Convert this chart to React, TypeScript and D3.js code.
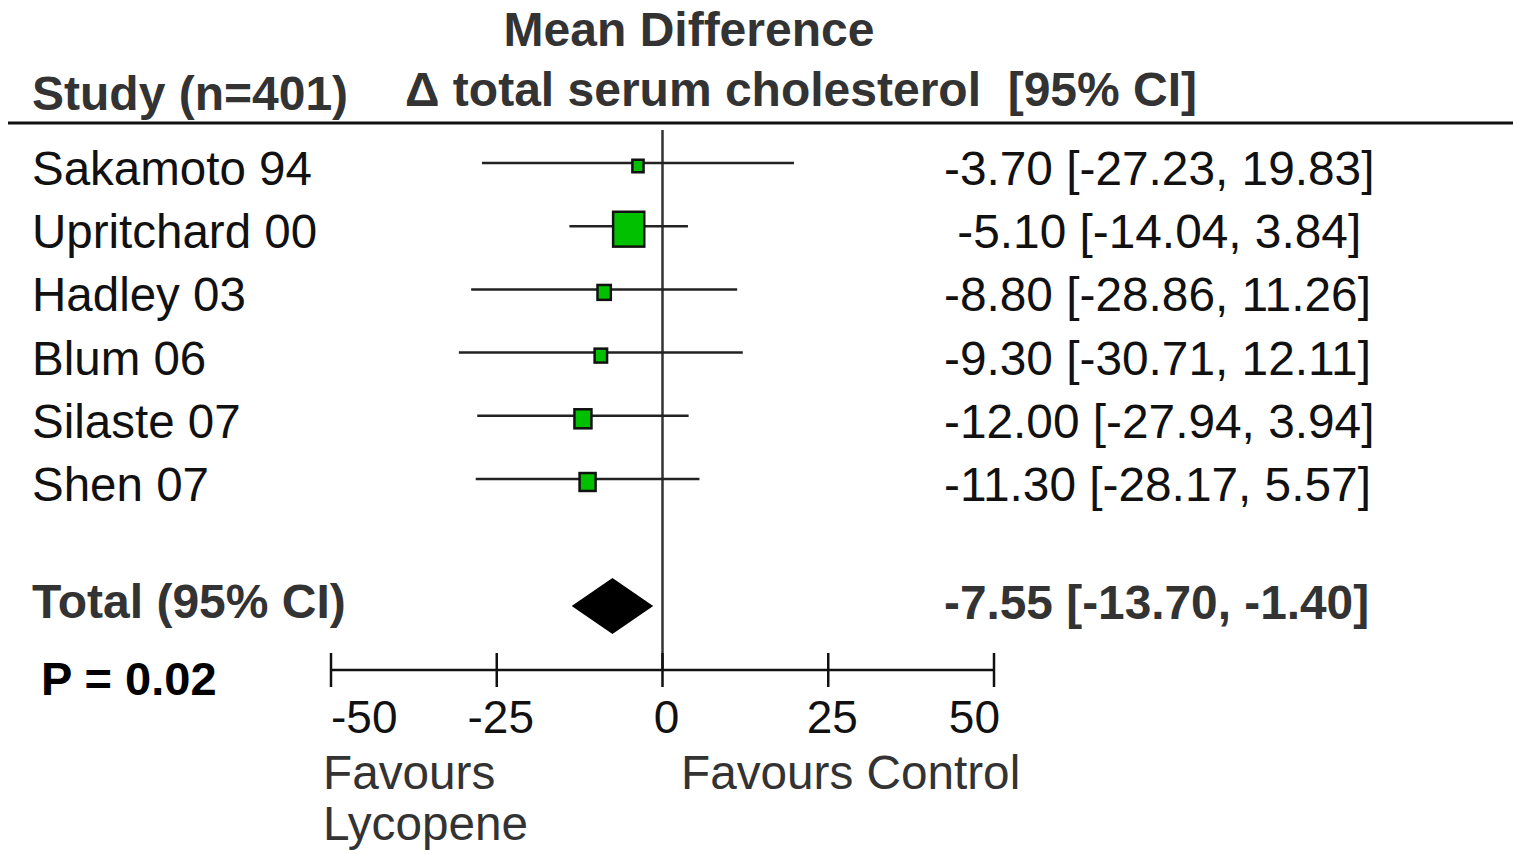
import React from 'react';
import * as d3 from 'd3';

const studies = ['Sakamoto 94', 'Upritchard 00', 'Hadley 03', 'Blum 06', 'Silaste 07', 'Shen 07'];
const meanDiff = [-3.7, -5.1, -8.8, -9.3, -12.0, -11.3];
const ciLow = [-27.23, -14.04, -28.86, -30.71, -27.94, -28.17];
const ciHigh = [19.83, 3.84, 11.26, 12.11, 3.94, 5.57];
// study weights (%), box area follows them
const weights = [6.8, 47.4, 9.4, 8.3, 14.9, 13.3];
const ciLabels = [
    '-3.70 [-27.23, 19.83]',
    ' -5.10 [-14.04, 3.84]',
    '-8.80 [-28.86, 11.26]',
    '-9.30 [-30.71, 12.11]',
    '-12.00 [-27.94, 3.94]',
    '-11.30 [-28.17, 5.57]'
];

const totalMd = -7.55;
const totalLow = -13.7;
const totalHigh = -1.4;
const totalLabel = '-7.55 [-13.70, -1.40]';
const pValue = 'P = 0.02';

const axisTicks = [-50, -25, 0, 25, 50];

const font = "'Liberation Sans', Arial, sans-serif";

export default function App() {

    const width = 1513, height = 854;

    const x = d3.scaleLinear().domain([-50, 50]).range([331, 994]);
    const y = d3.scaleLinear().domain([0, studies.length - 1]).range([163, 479]);
    const boxSize = d3.scaleSqrt().domain([0, 50]).range([0, 33]);

    const axisY = 670;
    const totalY = 606;

    const diamond = d3.line()([
        [x(totalLow), totalY],
        [x(totalMd), totalY - 28],
        [x(totalHigh), totalY],
        [x(totalMd), totalY + 28]
    ]) + 'Z';

    return <svg width={width} height={height} style={{ position: 'absolute', left: 0, top: 0, background: '#fff' }}
        fontFamily={font}>

        {/* header */}
        <text x={689} y={46} textAnchor="middle" fontSize={48} fontWeight="bold" fill="#333">Mean Difference</text>
        <text x={32} y={110} fontSize={48} fontWeight="bold" fill="#333">Study (n=401)</text>
        <text x={405} y={106} fontSize={48} fontWeight="bold" fill="#333" style={{ whiteSpace: 'pre' }}>Δ total serum cholesterol  [95% CI]</text>
        <line x1={8} x2={1513} y1={123} y2={123} stroke="#111" strokeWidth={3} />

        {/* line of no effect */}
        <line x1={x(0)} x2={x(0)} y1={130} y2={axisY} stroke="#333" strokeWidth={2.5} />

        {studies.map((s, i) => {
            const w = boxSize(weights[i]) - 1;
            const h = w * 1.12;
            return <g key={s}>
                <text x={32} y={y(i) + 22} fontSize={47.5} fill="#111">{s}</text>
                <line x1={x(ciLow[i])} x2={x(ciHigh[i])} y1={y(i)} y2={y(i)} stroke="#222" strokeWidth={2.5} />
                <rect x={x(meanDiff[i]) - w / 2} y={y(i) + 3 - h / 2} width={w} height={h}
                    fill="#00c000" stroke="#111" strokeWidth={2.5} />
                <text x={944} y={y(i) + 22} fontSize={47.8} fill="#111" style={{ whiteSpace: 'pre' }}>{ciLabels[i]}</text>
            </g>
        })}

        {/* pooled */}
        <text x={32} y={618} fontSize={48} fontWeight="bold" fill="#333">Total (95% CI)</text>
        <path d={diamond} fill="#000" />
        <text x={944} y={619} fontSize={47.8} fontWeight="bold" fill="#333">{totalLabel}</text>
        <text x={41} y={695} fontSize={47} fontWeight="bold" fill="#000">{pValue}</text>

        {/* axis */}
        <line x1={x(-50)} x2={x(50)} y1={axisY} y2={axisY} stroke="#111" strokeWidth={2.5} />
        {axisTicks.map((t, i) => {
            const anchor = i === 0 ? 'start' : i === axisTicks.length - 1 ? 'end' : 'middle';
            const dx = i === 0 ? 0 : i === axisTicks.length - 1 ? 6 : 4;
            return <g key={t}>
                <line x1={x(t)} x2={x(t)} y1={axisY - 17} y2={axisY + 17} stroke="#111" strokeWidth={2.5} />
                <text x={x(t) + dx} y={733} textAnchor={anchor} fontSize={46} fill="#111">{t}</text>
            </g>
        })}

        <text x={323} y={789} fontSize={47.7} fill="#333">Favours</text>
        <text x={323} y={840} fontSize={47.7} fill="#333">Lycopene</text>
        <text x={681} y={789} fontSize={47.7} fill="#333">Favours Control</text>
    </svg>
}
